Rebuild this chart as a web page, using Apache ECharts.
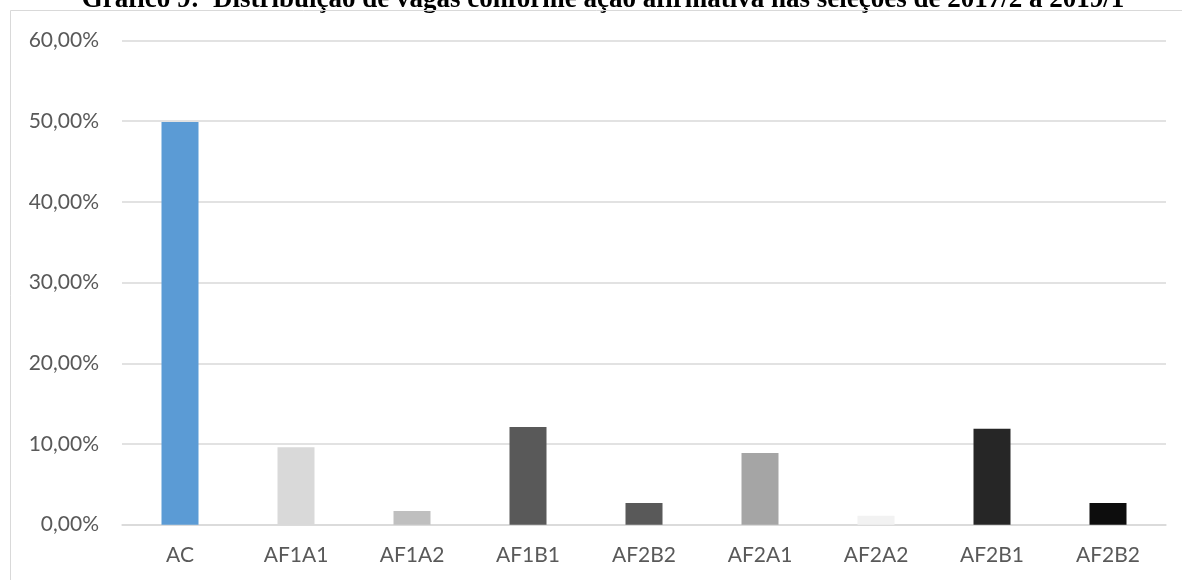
<!DOCTYPE html>
<html>
<head>
<meta charset="utf-8">
<script src="https://cdn.jsdelivr.net/npm/echarts@6/dist/echarts.min.js"></script>
<style>
html,body{margin:0;padding:0;background:#fff;}
#chart{width:1182px;height:580px;}
</style>
</head>
<body>
<div id="chart"></div>
<script>
const titleText = 'Gráfico 9:  Distribuição de vagas conforme ação afirmativa nas seleções de 2017/2 a 2019/1';
const categories = ['AC', 'AF1A1', 'AF1A2', 'AF1B1', 'AF2B2', 'AF2A1', 'AF2A2', 'AF2B1', 'AF2B2'];
const values = [49.9, 9.6, 1.7, 12.1, 2.7, 8.9, 1.1, 11.9, 2.7];
const barColors = ['#5B9BD5', '#D9D9D9', '#BFBFBF', '#595959', '#595959', '#A5A5A5', '#F2F2F2', '#262626', '#0D0D0D'];
const yMin = 0, yMax = 60, yStep = 10;

const chart = echarts.init(document.getElementById('chart'), null, {renderer: 'canvas'});
const fmt = v => v.toFixed(2).replace('.', ',') + '%';

chart.setOption({
  animation: false,
  backgroundColor: '#ffffff',
  grid: {left: 122, right: 16, top: 40.5, bottom: 55.3, containLabel: false},
  graphic: [
    {
      type: 'rect', silent: true, z: 20,
      shape: {x: 10.5, y: 10.5, width: 1200, height: 600},
      style: {fill: 'none', stroke: '#D9D9D9', lineWidth: 1}
    },
    {
      type: 'text', silent: true, z: 10,
      x: 603, y: 0.5,
      style: {
        text: titleText,
        align: 'center', verticalAlign: 'middle',
        font: 'bold 27px "Liberation Serif", "Times New Roman", serif',
        fill: '#000000'
      }
    }
  ],
  xAxis: {
    type: 'category',
    data: categories,
    axisLine: {show: true, lineStyle: {color: '#D9D9D9', width: 1.5}},
    axisTick: {show: false},
    axisLabel: {color: '#595959', fontFamily: 'Lato', fontSize: 21, margin: 20, interval: 0},
    splitLine: {show: false}
  },
  yAxis: {
    type: 'value',
    min: yMin, max: yMax, interval: yStep,
    axisLine: {show: false},
    axisTick: {show: false},
    axisLabel: {color: '#595959', fontFamily: 'Lato', fontSize: 21, margin: 23, formatter: fmt},
    splitLine: {lineStyle: {color: '#D9D9D9', width: 1.5}}
  },
  series: [{
    type: 'bar',
    barWidth: 37,
    data: values.map((v, i) => ({value: v, itemStyle: {color: barColors[i]}}))
  }]
});
</script>
</body>
</html>
